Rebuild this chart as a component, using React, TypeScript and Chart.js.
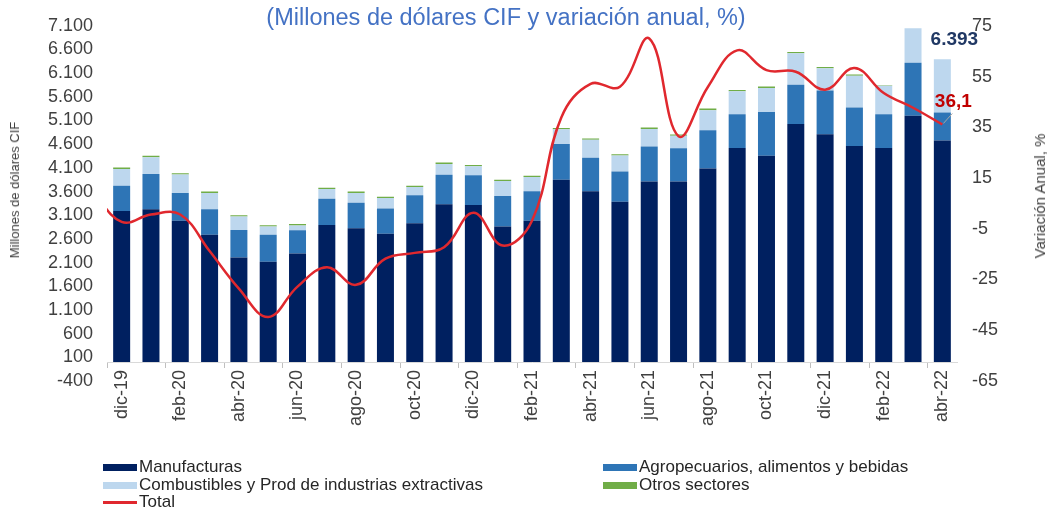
import React, { useEffect, useRef } from 'react';
import { Chart, registerables } from 'chart.js';

Chart.register(...registerables);

// ---- Data ----
// 'nov-19' is only present for the Total line (its curve enters from the left edge)
const categories = [
  'nov-19', 'dic-19', 'ene-20', 'feb-20', 'mar-20', 'abr-20', 'may-20', 'jun-20', 'jul-20', 'ago-20',
  'sep-20', 'oct-20', 'nov-20', 'dic-20', 'ene-21', 'feb-21', 'mar-21', 'abr-21', 'may-21',
  'jun-21', 'jul-21', 'ago-21', 'sep-21', 'oct-21', 'nov-21', 'dic-21', 'ene-22', 'feb-22',
  'mar-22', 'abr-22',
];
const firstVisible = 'dic-19';

const manufacturas = [
  null, 3192, 3226, 2985, 2686, 2208, 2119, 2291, 2893, 2825,
  2707, 2929, 3330, 3317, 2860, 2985, 3849, 3608, 3386,
  3815, 3815, 4085, 4521, 4355, 5026, 4812, 4563, 4521,
  5199, 4680,
];
const agropecuarios = [
  null, 532, 747, 587, 540, 581, 567, 492, 555, 540,
  533, 595, 623, 629, 644, 623, 756, 706, 637,
  734, 698, 810, 713, 927, 831, 921, 810, 713,
  1121, 589,
];
const combustibles = [
  null, 353, 353, 389, 346, 285, 174, 98, 208, 207,
  222, 173, 228, 187, 318, 297, 311, 380, 339,
  373, 264, 422, 484, 506, 665, 471, 671, 602,
  727, 1124,
];
const otros = [
  null, 30, 29, 27, 28, 27, 27, 33, 27, 28,
  27, 28, 35, 28, 27, 27, 27, 27, 27,
  28, 28, 35, 29, 28, 27, 27, 27, 10,
  0, 0,
];
const totalVariacion = [
  10, -2.3, 0.6, 0.6, -13.8, -28.6, -39.8, -27.8, -20.2, -27.1,
  -16.8, -14.5, -12.3, 1.3, -11.6, -1.8, 38.9, 52.1, 51.0,
  70.0, 31.5, 50.9, 65.3, 57.5, 56.9, 49.8, 58.4, 48.5,
  42.7, 36.1,
];

const seriesNames = [
  'Manufacturas',
  'Agropecuarios, alimentos y bebidas',
  'Combustibles y Prod de industrias extractivas',
  'Otros sectores',
  'Total',
];
const seriesColors = ['#002060', '#2E75B6', '#BDD7EE', '#70AD47', '#E0282E'];

const leftMin = -400;
const leftMax = 7100;
const leftStep = 500;
const rightMin = -65;
const rightMax = 75;
const rightStep = 20;

const titleText = '(Millones de dólares CIF y variación anual, %)';
const leftAxisTitle = 'Millones de dólares CIF';
const rightAxisTitle = 'Variación Anual, %';

const FONT = '"Liberation Sans", Arial, Helvetica, sans-serif';

function fmtThousands(v: number): string {
  const s = String(Math.abs(Math.round(v))).replace(/\B(?=(\d{3})+(?!\d))/g, '.');
  return (v < 0 ? '-' : '') + s;
}

const endLabelsPlugin = {
  id: 'endLabels',
  afterDatasetsDraw(chart: any) {
    const ctx = chart.ctx;
    const last = categories.length - 1;
    const barTotal =
      (manufacturas[last] || 0) + (agropecuarios[last] || 0) + (combustibles[last] || 0) + (otros[last] || 0);
    const x = chart.scales.x.getPixelForValue(last);
    const yTop = chart.scales.y.getPixelForValue(barTotal);
    const yLine = chart.scales.y1.getPixelForValue(totalVariacion[last]);
    ctx.save();
    ctx.font = 'bold 19px ' + FONT;
    ctx.textAlign = 'center';
    ctx.textBaseline = 'middle';
    ctx.fillStyle = '#203864';
    ctx.fillText(fmtThousands(barTotal), x + 12, yTop - 20);
    ctx.strokeStyle = '#A6A6A6';
    ctx.lineWidth = 1;
    ctx.beginPath();
    ctx.moveTo(x + 1, yLine - 1);
    ctx.lineTo(x + 10, yLine - 11);
    ctx.stroke();
    ctx.fillStyle = '#C00000';
    ctx.fillText(totalVariacion[last].toFixed(1).replace('.', ','), x + 11, yLine - 23);
    ctx.restore();
  },
};

export default function App() {
  const canvasRef = useRef<HTMLCanvasElement | null>(null);

  useEffect(() => {
    if (!canvasRef.current) return;
    Chart.defaults.font.family = FONT;
    const barSeries = [manufacturas, agropecuarios, combustibles, otros];
    const datasets: any[] = barSeries.map((data, i) => ({
      type: 'bar',
      label: seriesNames[i],
      data,
      backgroundColor: seriesColors[i],
      borderWidth: 0,
      yAxisID: 'y',
      barPercentage: 0.58,
      categoryPercentage: 1.0,
      stack: 'imp',
      order: 1,
    }));
    datasets.push({
      type: 'line',
      label: seriesNames[4],
      data: totalVariacion,
      yAxisID: 'y1',
      borderColor: seriesColors[4],
      backgroundColor: seriesColors[4],
      borderWidth: 2.5,
      pointRadius: 0,
      tension: 0.4,
      fill: false,
      order: -1,
    });

    const chart = new Chart(canvasRef.current, {
      type: 'bar',
      data: { labels: categories, datasets },
      options: {
        responsive: false,
        animation: false,
        events: [],
        layout: { padding: { top: 20, bottom: 127, left: 0, right: 0 } },
        plugins: {
          legend: { display: false },
          tooltip: { enabled: false },
          title: { display: false },
        },
        scales: {
          x: {
            type: 'category',
            min: firstVisible,
            position: { y: 0 } as any,
            stacked: true,
            offset: true,
            grid: {
              display: true,
              offset: true,
              drawOnChartArea: false,
              drawTicks: true,
              tickLength: 5,
              lineWidth: 1,
              color: (c: any) =>
                c.index !== undefined && c.index % 2 === 0 ? '#BFBFBF' : 'rgba(0,0,0,0)',
            },
            border: { display: true, color: '#D9D9D9', width: 1 },
            ticks: {
              autoSkip: false,
              maxRotation: 90,
              minRotation: 90,
              padding: 3,
              color: '#404040',
              font: { size: 18, family: FONT },
              callback: function (this: any, value: any, index: number) {
                return index % 2 === 0 ? this.getLabelForValue(value) : '';
              },
            },
          },
          y: {
            type: 'linear',
            position: 'left',
            stacked: true,
            min: leftMin,
            max: leftMax,
            grid: { display: false, drawTicks: false },
            border: { display: false },
            ticks: {
              stepSize: leftStep,
              autoSkip: false,
              padding: 14,
              color: '#404040',
              font: { size: 18, family: FONT },
              callback: (v: any) => fmtThousands(Number(v)),
            },
            afterFit: (s: any) => {
              s.width = 107;
            },
          },
          y1: {
            type: 'linear',
            position: 'right',
            min: rightMin,
            max: rightMax,
            grid: { display: false, drawTicks: false },
            border: { display: false },
            ticks: {
              stepSize: rightStep,
              autoSkip: false,
              padding: 15,
              color: '#404040',
              font: { size: 18, family: FONT },
            },
            afterFit: (s: any) => {
              s.width = 91;
            },
          },
        },
      } as any,
      plugins: [endLabelsPlugin],
    });
    return () => chart.destroy();
  }, []);

  const legendItems = [
    { i: 0, col: 0, row: 0 },
    { i: 1, col: 1, row: 0 },
    { i: 2, col: 0, row: 1 },
    { i: 3, col: 1, row: 1 },
    { i: 4, col: 0, row: 2 },
  ];
  const colX = [103, 603];
  const rowY = [467, 485, 502];

  return (
    <div
      style={{
        position: 'absolute',
        left: 0,
        top: 0,
        width: 1048,
        height: 508,
        background: '#FFFFFF',
        fontFamily: FONT,
        overflow: 'hidden',
      }}
    >
      <canvas ref={canvasRef} width={1048} height={508} style={{ display: 'block' }} />
      <div
        style={{
          position: 'absolute',
          left: 506,
          top: 17,
          transform: 'translate(-50%, -50%)',
          fontSize: 23.5,
          lineHeight: '26px',
          color: '#4472C4',
          whiteSpace: 'nowrap',
        }}
      >
        {titleText}
      </div>
      <div
        style={{
          position: 'absolute',
          left: 15,
          top: 190,
          transform: 'translate(-50%, -50%) rotate(-90deg)',
          fontSize: 13,
          lineHeight: '14px',
          color: '#404040',
          whiteSpace: 'nowrap',
        }}
      >
        {leftAxisTitle}
      </div>
      <div
        style={{
          position: 'absolute',
          left: 1040,
          top: 196,
          transform: 'translate(-50%, -50%) rotate(-90deg)',
          fontSize: 15,
          lineHeight: '16px',
          color: '#404040',
          whiteSpace: 'nowrap',
        }}
      >
        {rightAxisTitle}
      </div>
      {legendItems.map((it) => (
        <div
          key={it.i}
          style={{
            position: 'absolute',
            left: colX[it.col],
            top: rowY[it.row] - 9,
            height: 18,
            display: 'flex',
            alignItems: 'center',
            whiteSpace: 'nowrap',
            fontSize: 17,
            lineHeight: '18px',
            color: '#262626',
          }}
        >
          <span
            style={{
              display: 'inline-block',
              width: 34,
              height: it.i === 4 ? 3 : 7,
              background: seriesColors[it.i],
              marginRight: 2,
            }}
          />
          <span>{seriesNames[it.i]}</span>
        </div>
      ))}
    </div>
  );
}
